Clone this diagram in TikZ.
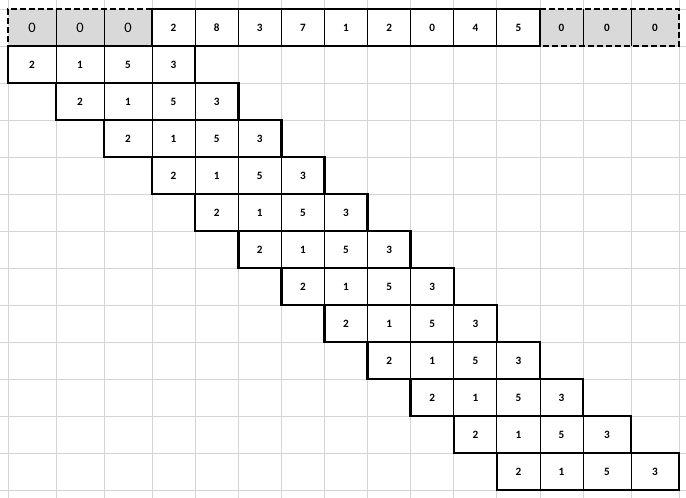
\documentclass[tikz,border=0pt]{standalone}
\usepackage{fontspec}
\setmainfont{Carlito}
\definecolor{gridgray}{RGB}{212,212,212}
\definecolor{padfill}{RGB}{217,217,217}
\begin{document}
\begin{tikzpicture}[x=1pt,y=-1pt,
  gridline/.style={draw=gridgray,line width=1pt},
  sepline/.style={draw=black,line width=1pt},
  boxline/.style={draw=black,line width=2.6pt,line join=miter},
  dashline/.style={draw=black,line width=2.6pt,dash pattern=on 6pt off 3pt},
  cellnum/.style={font=\fontsize{11.2}{11.2}\selectfont\bfseries,inner sep=0pt,anchor=center},
  padzero/.style={font=\fontsize{14.5}{14.5}\selectfont,inner sep=0pt,anchor=center},
]
\useasboundingbox (0,0) rectangle (686,498);
\def\cx{{8,56,104,152,195.1,238.2,281.3,324.4,367.6,410.7,453.8,496.9,540,583,631,679}}
% spreadsheet grid
\foreach \i in {0,...,15} {
  \pgfmathsetmacro\xx{\cx[\i]}
  \draw[gridline] (\xx,0) -- (\xx,498);
}
\foreach \j in {0,...,13} {
  \pgfmathsetmacro\yy{9+37*\j}
  \draw[gridline] (0,\yy) -- (686,\yy);
}
% top row: padded input
\fill[padfill] (8,9) rectangle (152,46);
\fill[padfill] (540,9) rectangle (679,46);
\foreach \i in {1,2,4,5,6,7,8,9,10,11,13,14} {
  \pgfmathsetmacro\xx{\cx[\i]}
  \draw[sepline] (\xx,9) -- (\xx,46);
}
\foreach \v [count=\i from 0] in {0,0,0,2,8,3,7,1,2,0,4,5,0,0,0} {
  \pgfmathsetmacro\xa{\cx[\i]}
  \pgfmathsetmacro\xb{\cx[\i+1]}
  \pgfmathtruncatemacro\n{\i+1}
  \ifnum\i<3
    \node[padzero] (top\n) at ({(\xa+\xb)/2},27.5) {\v};
  \else
    \node[cellnum] (top\n) at ({(\xa+\xb)/2},27.5) {\v};
  \fi
}
\draw[boxline] (152,9) rectangle (540,46);
\draw[dashline] (152,9) -- (8,9) -- (8,46);
\draw[dashline] (540,9) -- (679,9) -- (679,46) -- (540,46);
% sliding kernel rows
\foreach \k in {1,...,12} {
  \pgfmathsetmacro\ya{9+37*\k}
  \pgfmathsetmacro\yb{\ya+37}
  \pgfmathsetmacro\ym{\ya+18.5}
  \pgfmathsetmacro\xl{\cx[\k-1]}
  \pgfmathsetmacro\xr{\cx[\k+3]}
  \foreach \j in {0,1,2} {
    \pgfmathsetmacro\xs{\cx[\k+\j]}
    \draw[sepline] (\xs,\ya) -- (\xs,\yb);
  }
  \draw[boxline] (\xl,\ya) rectangle (\xr,\yb);
  \foreach \v [count=\j from 0] in {2,1,5,3} {
    \pgfmathtruncatemacro\ia{\k-1+\j}
    \pgfmathsetmacro\xa{\cx[\ia]}
    \pgfmathsetmacro\xb{\cx[\ia+1]}
    \node[cellnum] (k\k-\j) at ({(\xa+\xb)/2},\ym) {\v};
  }
}
\end{tikzpicture}
\end{document}
